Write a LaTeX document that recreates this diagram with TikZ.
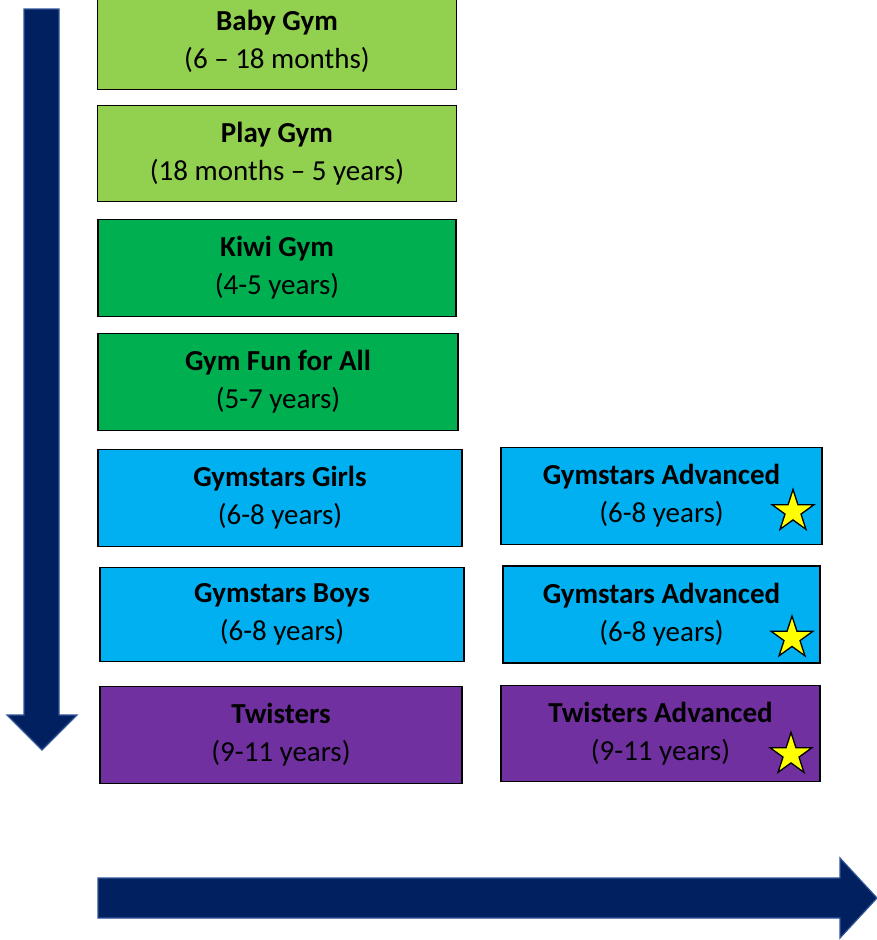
\documentclass[tikz,border=0pt]{standalone}
\usepackage{fontspec}
\setmainfont{Carlito}
\usetikzlibrary{positioning,shapes.geometric}

\definecolor{babygreen}{HTML}{92D050}
\definecolor{kiwigreen}{HTML}{00B050}
\definecolor{starblue}{HTML}{00B0F0}
\definecolor{twistpurple}{HTML}{7030A0}
\definecolor{arrownavy}{HTML}{002060}
\definecolor{arrowedge}{HTML}{2F5597}
\definecolor{staryellow}{HTML}{FFFF00}

\tikzset{
  agebox/.style={draw=black, line width=1.6pt, align=center, inner sep=0pt, outer sep=0pt,
    minimum height=97pt, font=\fontsize{29}{38}\selectfont},
  goldstar/.style={star, star points=5, star point ratio=2.618, fill=staryellow,
    draw=black, line width=1.3pt, minimum size=44pt, inner sep=0pt},
  bigarrow/.style={fill=arrownavy, draw=arrowedge, line width=1.2pt}
}

\begin{document}
\begin{tikzpicture}[x=1pt, y=-1pt]

\useasboundingbox (0,0) rectangle (877,940);

%\draw [->] (0,0) -- (10,10);

\filldraw[bigarrow] (24,9) -- (59,9) -- (59,715) -- (77,715) -- (42,750) -- (7,715) -- (24,715) -- cycle;
\filldraw[bigarrow] (98,878) -- (840,878) -- (840,858) -- (877,898) -- (840,938) -- (840,918) -- (98,918) -- cycle;

\node[agebox, fill=babygreen, minimum width=359pt] (baby) at (277,41) {\textbf{Baby Gym}\\(6 – 18 months)};

\node[agebox, fill=babygreen, minimum width=359pt, minimum height=96pt, below=16pt of baby] (play) {\textbf{Play Gym}\\(18 months – 5 years)};
\node[agebox, fill=kiwigreen, minimum width=358pt, below=18pt of play] (kiwi) {\textbf{Kiwi Gym}\\(4-5 years)};
\node[agebox, fill=kiwigreen, minimum width=360pt, below=17pt of kiwi, xshift=1pt] (funall) {\textbf{Gym Fun for All}\\(5-7 years)};
\node[agebox, fill=starblue, minimum width=364pt, below=19pt of funall, xshift=2pt] (girls) {\textbf{Gymstars Girls}\\(6-8 years)};
\node[agebox, fill=starblue, minimum width=364pt, minimum height=94pt, below=21pt of girls, xshift=2pt] (boys) {\textbf{Gymstars Boys}\\(6-8 years)};
\node[agebox, fill=twistpurple, minimum width=362pt, below=25pt of boys, xshift=-1pt] (twist) {\textbf{Twisters}\\(9-11 years)};

\node[agebox, fill=starblue, minimum width=321pt, right=39pt of girls, yshift=2pt] (adv1) {\textbf{Gymstars Advanced}\\(6-8 years)};
\node[agebox, fill=starblue, minimum width=317pt, right=39pt of boys] (adv2) {\textbf{Gymstars Advanced}\\(6-8 years)};
\node[agebox, fill=twistpurple, minimum width=319pt, minimum height=96pt, right=39pt of twist, yshift=1.5pt] (adv3) {\textbf{Twisters Advanced}\\(9-11 years)};

\node[goldstar] (star1) at ([shift={(-29,-33)}]adv1.south east) {};
\node[goldstar] (star2) at ([shift={(-28,-25)}]adv2.south east) {};
\node[goldstar] (star3) at ([shift={(-29,-27)}]adv3.south east) {};

\end{tikzpicture}
\end{document}
